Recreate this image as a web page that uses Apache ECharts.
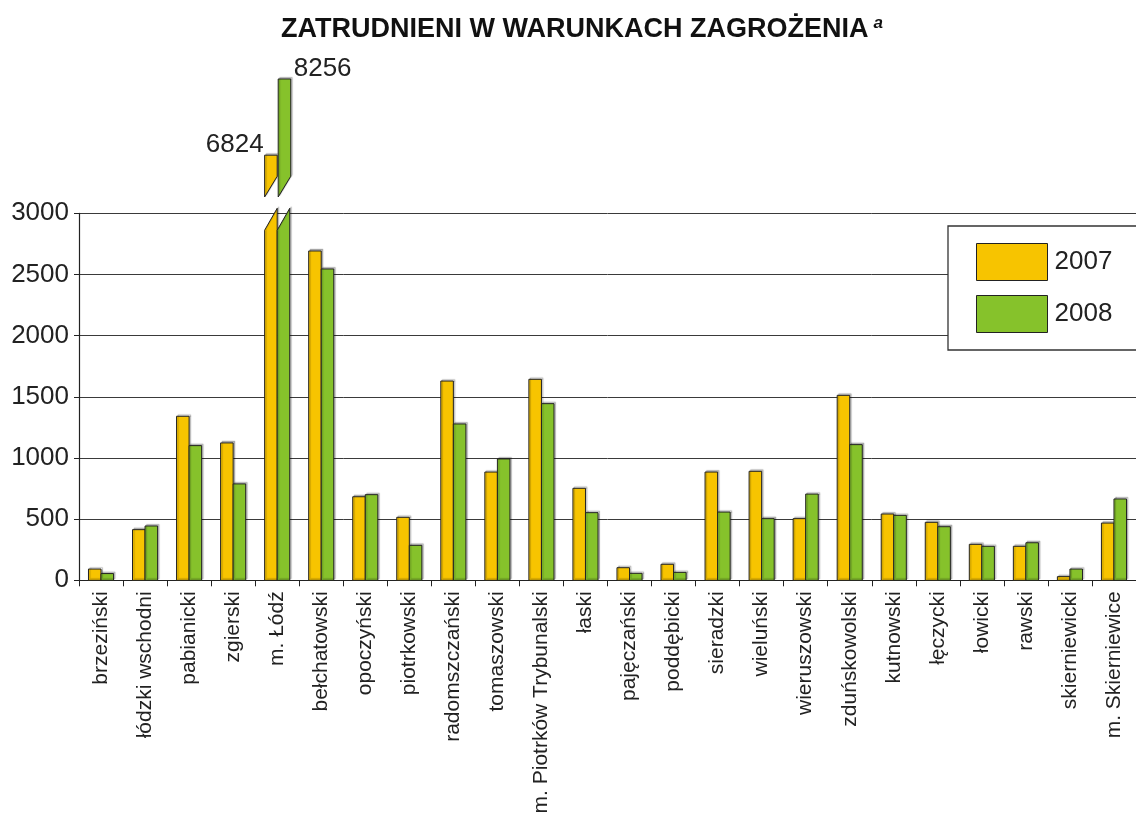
<!DOCTYPE html>
<html>
<head>
<meta charset="utf-8">
<script src="https://cdn.jsdelivr.net/npm/echarts@6/dist/echarts.min.js"></script>
<style>
html,body{margin:0;padding:0;background:#fff;}
#chart{width:1136px;height:819px;}
</style>
</head>
<body>
<div id="chart"></div>
<script>
var categories = ['brzeziński','łódzki wschodni','pabianicki','zgierski','m. Łódź','bełchatowski','opoczyński','piotrkowski','radomszczański','tomaszowski','m. Piotrków Trybunalski','łaski','pajęczański','poddębicki','sieradzki','wieluński','wieruszowski','zduńskowolski','kutnowski','łęczycki','łowicki','rawski','skierniewicki','m. Skierniewice'];
var values2007 = [92, 414, 1341, 1123, 6824, 2692, 683, 515, 1629, 885, 1643, 752, 103, 131, 885, 891, 504, 1512, 542, 474, 294, 278, 30, 468];
var values2008 = [55, 444, 1101, 788, 8256, 2545, 700, 286, 1278, 992, 1444, 553, 57, 65, 558, 504, 705, 1109, 531, 438, 278, 307, 92, 665];
var yTicks = [0, 500, 1000, 1500, 2000, 2500, 3000];
var seriesNames = ['2007', '2008'];

var BREAK_AT = 3000;      // lower pane top
var UPPER_MIN = 6000;     // upper pane range for broken bars
var UPPER_MAX = 8500;
var COLORS = ['#F7C400', '#86C22B'];
var FONT = "'Liberation Sans', Arial, sans-serif";
var BAR_RATIO = 0.285;

function toData(arr) { return arr.map(function (v, i) { return [i, v]; }); }

var barStyleBase = {
  stroke: '#222', lineWidth: 1,
  shadowColor: 'rgba(0,0,0,0.22)', shadowBlur: 1, shadowOffsetX: 1.5, shadowOffsetY: -1.5
};

function styleFor(k) {
  var s = {}; for (var p in barStyleBase) s[p] = barStyleBase[p];
  s.fill = COLORS[k];
  return s;
}

function geom(api, k) {
  var idx = api.value(0);
  var base = api.coord([idx, 0]);
  var bw = api.size([1, 0])[0] * BAR_RATIO;
  var x0 = k === 0 ? base[0] - bw : base[0];
  return {idx: idx, x0: x0, bw: bw};
}

function lowerRender(k) {
  return function (params, api) {
    var v = api.value(1);
    var g = geom(api, k);
    var y0 = api.coord([g.idx, 0])[1];
    if (v <= BREAK_AT) {
      var yt = api.coord([g.idx, v])[1];
      return {type: 'rect', shape: {x: g.x0, y: yt, width: g.bw, height: y0 - yt}, style: styleFor(k)};
    }
    var yCap = api.coord([g.idx, BREAK_AT])[1];
    var slant = g.bw * 1.75;
    var yr = yCap - g.bw * 0.4;
    var yl = yr + slant;
    return {type: 'polygon', shape: {points: [[g.x0, y0], [g.x0, yl], [g.x0 + g.bw, yr], [g.x0 + g.bw, y0]]}, style: styleFor(k)};
  };
}

function upperRender(k) {
  return function (params, api) {
    var v = api.value(1);
    if (!(v > BREAK_AT)) return null;
    var g = geom(api, k);
    var yt = api.coord([g.idx, v])[1];
    var slant = g.bw * 1.65;
    var yl = api.coord([g.idx, UPPER_MIN])[1] - 2;
    var yr = yl - slant;
    var x0 = g.x0 + (k === 0 ? 0 : 1);
    return {
      type: 'group',
      children: [
        {type: 'polygon', shape: {points: [[x0, yt], [x0, yl], [x0 + g.bw, yr], [x0 + g.bw, yt]]}, style: styleFor(k)},
        {type: 'text', x: k === 0 ? x0 - 1 : x0 + g.bw + 3, y: yt + 3,
          style: {text: String(v), fill: '#222', font: '26px ' + FONT,
            align: k === 0 ? 'right' : 'left', verticalAlign: 'bottom'}}
      ]
    };
  };
}

var chart = echarts.init(document.getElementById('chart'), null, {renderer: 'canvas'});
var option = {
  backgroundColor: '#fff',
  animation: false,
  title: {
    text: '{t|ZATRUDNIENI W WARUNKACH ZAGROŻENIA} {a|a}',
    left: 276, top: 10,
    textStyle: {
      rich: {
        t: {fontFamily: FONT, fontWeight: 'bold', fontSize: 27, color: '#111'},
        a: {fontFamily: FONT, fontWeight: 'bold', fontStyle: 'italic', fontSize: 17, color: '#111', verticalAlign: 'top', padding: [0, 0, 12, 0]}
      }
    }
  },
  legend: {
    data: seriesNames,
    orient: 'vertical',
    left: 948, top: 226,
    padding: [17, 60, 17, 28],
    itemWidth: 71, itemHeight: 37, itemGap: 14,
    icon: 'rect',
    borderColor: '#333', borderWidth: 1.3, backgroundColor: '#fff',
    itemStyle: {borderColor: '#222', borderWidth: 1},
    textStyle: {fontFamily: FONT, fontSize: 26, color: '#222', padding: [0, 0, 0, 2]}
  },
  grid: [
    {left: 79, width: 1066, top: 213.3, height: 367},
    {left: 79, width: 1066, top: 66, height: 133}
  ],
  xAxis: [
    {
      type: 'category', gridIndex: 0, data: categories,
      axisLine: {lineStyle: {color: '#222', width: 1.2}},
      axisTick: {show: true, length: 6, lineStyle: {color: '#222'}},
      axisLabel: {interval: 0, rotate: 90, fontFamily: FONT, fontSize: 21, color: '#222', margin: 11},
      splitLine: {show: false}
    },
    {type: 'category', gridIndex: 1, data: categories, show: false}
  ],
  yAxis: [
    {
      type: 'value', gridIndex: 0, min: yTicks[0], max: yTicks[yTicks.length - 1], interval: yTicks[1] - yTicks[0],
      axisLine: {show: true, lineStyle: {color: '#222', width: 1.2}},
      axisTick: {show: true, length: 5, lineStyle: {color: '#222'}},
      axisLabel: {fontFamily: FONT, fontSize: 26, color: '#222', margin: 10, padding: [4, 0, 0, 0], formatter: function (v) { return String(v); }},
      splitLine: {show: true, lineStyle: {color: '#3a3a3a', width: 1}}
    },
    {type: 'value', gridIndex: 1, min: UPPER_MIN, max: UPPER_MAX, show: false, splitLine: {show: false}}
  ],
  series: [
    {name: seriesNames[0], type: 'custom', xAxisIndex: 0, yAxisIndex: 0, data: toData(values2007),
      encode: {x: 0, y: 1}, itemStyle: {color: COLORS[0]}, renderItem: lowerRender(0), z: 3},
    {name: seriesNames[1], type: 'custom', xAxisIndex: 0, yAxisIndex: 0, data: toData(values2008),
      encode: {x: 0, y: 1}, itemStyle: {color: COLORS[1]}, renderItem: lowerRender(1), z: 3},
    {name: seriesNames[0], type: 'custom', xAxisIndex: 1, yAxisIndex: 1, data: toData(values2007),
      encode: {x: 0, y: 1}, itemStyle: {color: COLORS[0]}, renderItem: upperRender(0), z: 3},
    {name: seriesNames[1], type: 'custom', xAxisIndex: 1, yAxisIndex: 1, data: toData(values2008),
      encode: {x: 0, y: 1}, itemStyle: {color: COLORS[1]}, renderItem: upperRender(1), z: 3}
  ]
};
chart.setOption(option);
</script>
</body>
</html>
